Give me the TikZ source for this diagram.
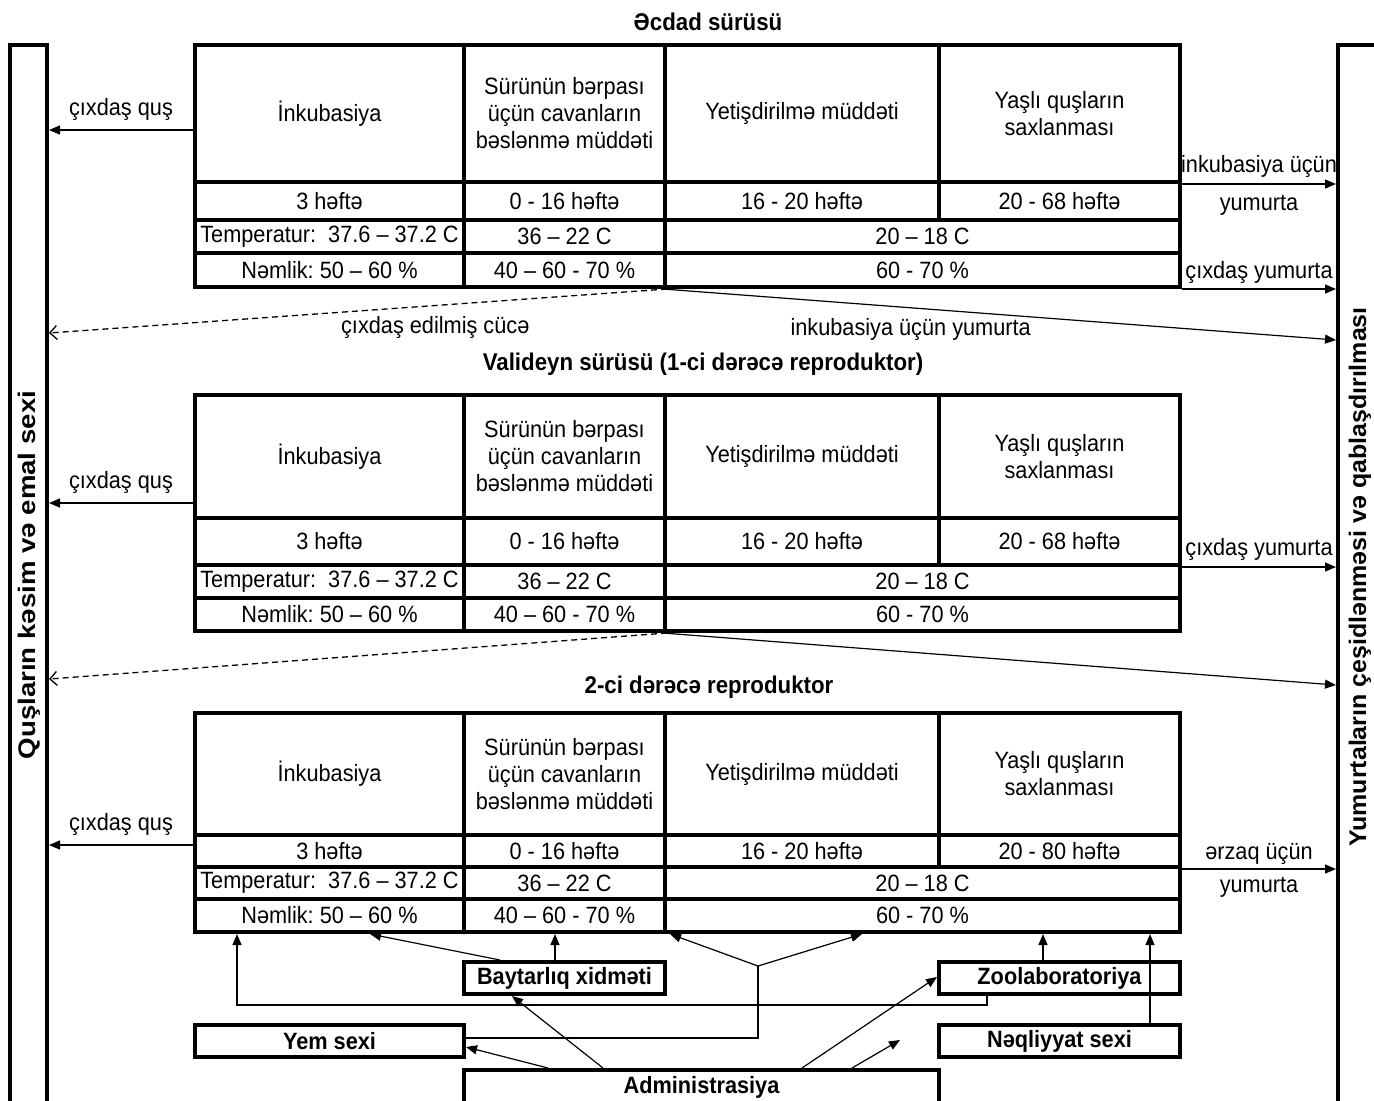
\documentclass[tikz,border=0pt]{standalone}
\usepackage{fontspec}
\setmainfont[FakeStretch=0.92]{Liberation Sans}
\newfontfamily\lbarfont[FakeStretch=1.15]{Liberation Sans}
\newfontfamily\rbarfont[FakeStretch=1.04]{Liberation Sans}
\usetikzlibrary{arrows.meta}
\frenchspacing

\tikzset{
 cellbox/.style={draw, line width=2pt, inner sep=0pt, align=center, font=\fontsize{11.8}{13.5}\selectfont},
 lbl/.style={font=\fontsize{11.8}{13}\selectfont, inner sep=2pt},
 ttl/.style={font=\bfseries\fontsize{12.1}{14}\selectfont},
 arr/.style={line width=0.6pt, -{Triangle[length=5.5pt,width=4.5pt]}},
 plain/.style={line width=0.6pt},
 darr/.style={line width=0.65pt, dash pattern=on 3pt off 2pt, -{Straight Barb[length=3.5pt,width=7pt]}},
 lbarlbl/.style={rotate=90, font=\lbarfont\bfseries\fontsize{12}{14}\selectfont},
 rbarlbl/.style={rotate=90, font=\rbarfont\bfseries\fontsize{12}{14}\selectfont},
}

\newcommand\cell[6]{%
 \pgfmathsetmacro\cw{(#4-#2)*0.5}%
 \pgfmathsetmacro\ch{(#5-#3)*0.5}%
 \node[cellbox, minimum width=\cw pt, minimum height=\ch pt] (#1) at ({(#2+#4)/2},{(#3+#5)/2}) {#6};}

\newcommand\flock[7]{%
 \cell{#1h1}{195}{#2}{464}{#3}{İnkubasiya}
 \cell{#1h2}{464}{#2}{665}{#3}{Sürünün bərpası\\üçün cavanların\\bəslənmə müddəti}
 \cell{#1h3}{665}{#2}{939}{#3}{Yetişdirilmə müddəti}
 \cell{#1h4}{939}{#2}{1180}{#3}{Yaşlı quşların\\saxlanması}
 \cell{#1w1}{195}{#3}{464}{#4}{3 həftə}
 \cell{#1w2}{464}{#3}{665}{#4}{0 - 16 həftə}
 \cell{#1w3}{665}{#3}{939}{#4}{16 - 20 həftə}
 \cell{#1w4}{939}{#3}{1180}{#4}{#7}
 \cell{#1t1}{195}{#4}{464}{#5}{Temperatur:\ \ 37.6 – 37.2 C}
 \cell{#1t2}{464}{#4}{665}{#5}{36 – 22 C}
 \cell{#1t3}{665}{#4}{1180}{#5}{20 – 18 C}
 \cell{#1n1}{195}{#5}{464}{#6}{Nəmlik: 50 – 60 \%}
 \cell{#1n2}{464}{#5}{665}{#6}{40 – 60 - 70 \%}
 \cell{#1n3}{665}{#5}{1180}{#6}{60 - 70 \%}
}

\begin{document}
\begin{tikzpicture}[x=0.5pt,y=-0.5pt]
\useasboundingbox (0,0) rectangle (1374,1100);
\clip (0,0) rectangle (1374,1100);
\fill[white] (0,0) rectangle (1374,1100);

% side bars
\cell{lbar}{10}{45}{47}{1130}{}
\cell{rbar}{1338}{45}{1420}{1130}{}
\node[lbarlbl] (lbarlbl) at (29,575) {Quşların kəsim və emal sexi};
\node[rbarlbl] (rbarlbl) at (1360,577) {Yumurtaların çeşidlənməsi və qablaşdırılması};

% titles
\node[ttl] (ttl1) at (708,22) {Əcdad sürüsü};
\node[ttl] (ttl2) at (703,364) {Valideyn sürüsü (1-ci dərəcə reproduktor)};
\node[ttl] (ttl3) at (709,687) {2-ci dərəcə reproduktor};

% tables
\flock{ta}{45}{182}{220}{253}{287}{20 - 68 həftə}
\flock{tb}{395}{518}{565}{598}{631}{20 - 68 həftə}
\flock{tc}{713}{835}{867}{899}{932}{20 - 80 həftə}

% left arrows
\draw[arr] (tah1.west |- 0,130) -- (lbar.east |- 0,130) node[lbl, midway, above=2.5pt] (qa) {çıxdaş quş};
\draw[arr] (tbh1.west |- 0,503) -- (lbar.east |- 0,503) node[lbl, midway, above=2.5pt] (qb) {çıxdaş quş};
\draw[arr] (tcw1.west |- 0,845) -- (lbar.east |- 0,845) node[lbl, midway, above=2.5pt] (qc) {çıxdaş quş};

% right arrows
\draw[arr] (tah4.south east) -- (rbar.west |- tah4.south east)
  node[lbl, midway, above=1pt] (ra1) {inkubasiya üçün}
  node[lbl, midway, below=3.5pt] (ra2) {yumurta};
\draw[arr] (tan3.south east) -- (rbar.west |- tan3.south east)
  node[lbl, midway, above=0.5pt] (ra3) {çıxdaş yumurta};
\draw[arr] (tbw4.south east) -- (rbar.west |- tbw4.south east)
  node[lbl, midway, above=1pt] (rb1) {çıxdaş yumurta};
\draw[arr] (tcw4.south east) -- (rbar.west |- tcw4.south east)
  node[lbl, midway, above=0pt] (rc1) {ərzaq üçün}
  node[lbl, midway, below=2pt] (rc2) {yumurta};

% diagonal flows
\draw[darr] (tan2.south east) -- (lbar.east |- 0,333)
  node[lbl, pos=0.375, below=3pt] (dl1) {çıxdaş edilmiş cücə};
\draw[arr] (tan3.south west) -- (rbar.west |- 0,340)
  node[lbl, pos=0.368, below=3pt] (dr1) {inkubasiya üçün yumurta};
\draw[darr] (tbn2.south east) -- (lbar.east |- 0,679);
\draw[arr] (tbn3.south west) -- (rbar.west |- 0,685);

% bottom boxes
\cell{bayt}{464}{962}{665}{994}{\bfseries Baytarlıq xidməti}
\cell{zoo}{939}{962}{1180}{994}{\bfseries Zoolaboratoriya}
\cell{yem}{195}{1025}{464}{1057}{\bfseries Yem sexi}
\cell{neq}{939}{1025}{1180}{1057}{\bfseries Nəqliyyat sexi}
\cell{adm}{464}{1070}{939}{1104}{\bfseries Administrasiya}

% bottom connectors
\coordinate (vtx) at (758,966);
\coordinate (zcorner) at (237,1005);
\coordinate (free) at (900,1040);
\draw[arr] (bayt.north -| 500,0) -- (tcn1.south -| 370,0);
\draw[arr] (bayt.north -| 555,0) -- (tcn2.south -| 555,0);
\draw[arr] (vtx) -- (tcn3.south -| 670,0);
\draw[arr] (vtx) -- (tcn3.south -| 862,0);
\draw[plain] (yem.east |- 0,1038) -| (vtx);
\draw[arr] (zoo.south -| 987,0) |- (zcorner) -- (tcn1.south -| zcorner);
\draw[arr] (zoo.north -| 1043,0) -- (tcn3.south -| 1043,0);
\draw[arr] (neq.north -| 1150,0) -- (tcn3.south -| 1150,0);
\draw[arr] (adm.north -| 548,0) -- (yem.east |- 0,1047);
\draw[arr] (adm.north -| 603,0) -- (bayt.south -| 512,0);
\draw[arr] (adm.north -| 802,0) -- (zoo.west |- 0,977);
\draw[arr] (adm.north -| 852,0) -- (free);
\end{tikzpicture}
\end{document}
